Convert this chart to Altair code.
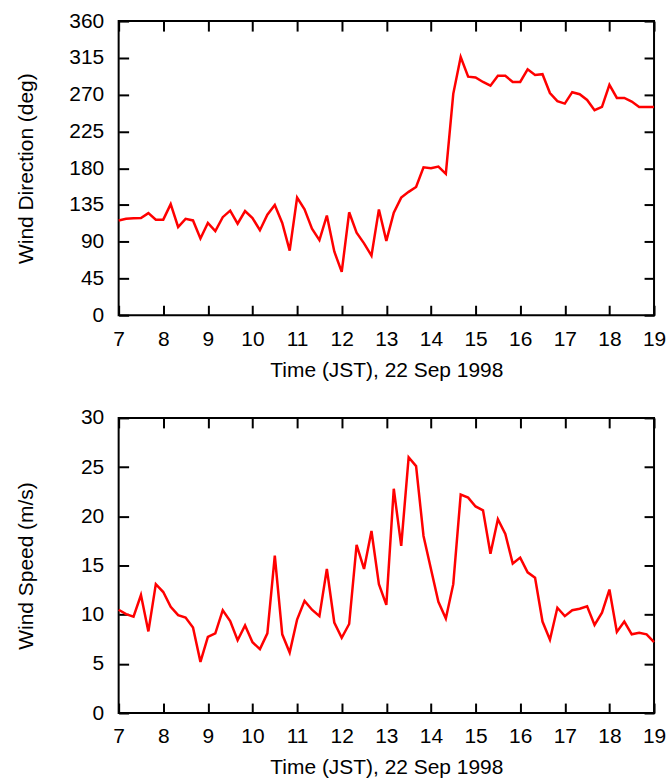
import altair as alt
import pandas as pd

# Wind direction (deg), every 10 minutes from 07:00 to 19:00 JST
direction = [116, 118, 118.6, 119, 125, 117, 117, 136, 108, 118, 116, 94, 113,
             103, 120, 128, 112, 127.5, 119, 104, 123, 135, 113, 79, 144, 129.5,
             106, 92, 122, 78, 53, 126, 101, 88, 73, 129.5, 91,
             125.5, 144, 151, 157, 181, 180, 182, 173, 271, 316, 292, 291, 285.5,
             281, 293, 293, 285.5, 285.5, 301, 294, 295, 272, 262, 259, 273,
             270.5, 263.5, 251, 255, 282, 266, 266, 261.5, 255, 255, 255]

# Wind speed (m/s)
speed = [10.5, 10.05, 9.8, 12.0, 8.3, 13.1, 12.3, 10.8, 9.95, 9.7, 8.7, 5.2, 7.75,
         8.1, 10.45, 9.35, 7.4, 8.9, 7.2, 6.5, 8.1, 16.0, 8.0, 6.15, 9.5, 11.4,
         10.5, 9.85, 14.65, 9.2, 7.65, 9.05, 17.1, 14.65, 18.5, 13.1, 11.0,
         22.8, 17.0, 26.0, 25.1, 18.0, 14.65, 11.3, 9.6, 13.1, 22.2, 21.9, 21.0,
         20.6, 16.2, 19.7, 18.2, 15.2, 15.8, 14.3, 13.75, 9.3, 7.45, 10.7, 9.85,
         10.45, 10.6, 10.85, 8.95, 10.2, 12.55, 8.25, 9.3, 8.0, 8.15, 8.0, 7.2]

hour_ticks = list(range(7, 20))
dir_ticks = list(range(0, 361, 45))
spd_ticks = list(range(0, 31, 5))
x_title = "Time (JST), 22 Sep 1998"

times = [7 + i / 6 for i in range(len(direction))]
df = pd.DataFrame({"t": times, "dir": direction, "spd": speed})

FONT = "Liberation Sans"
FS = 21
TICK = 10


def panel(field, ytitle, ymax, yvals, h):
    xs = alt.Scale(domain=[7, 19], nice=False, zero=False)
    ys = alt.Scale(domain=[0, ymax], nice=False)
    base = alt.Chart(df)
    lab = dict(labelFont=FONT, labelFontSize=FS, labelColor="black",
               titleFont=FONT, titleFontSize=FS, titleColor="black",
               titleFontWeight="normal", grid=False, domain=False,
               ticks=False, tickSize=0, labelFlush=False, labelOverlap=False)
    line = base.mark_line(color="#ff0000", strokeWidth=2.5).encode(
        x=alt.X("t:Q", scale=xs,
                axis=alt.Axis(values=hour_ticks, title=x_title,
                              labelPadding=13, titlePadding=10, **lab)),
        y=alt.Y(field + ":Q", scale=ys,
                axis=alt.Axis(values=yvals, title=ytitle, labelPadding=15,
                              titleX=-92, titleBaseline="middle", **lab)),
    )
    tk = dict(labels=False, domain=False, grid=False, tickSize=TICK,
              offset=-TICK, tickWidth=2, tickColor="black")
    ticks_bl = base.mark_line(opacity=0).encode(
        x=alt.X("t:Q", scale=xs, title=None,
                axis=alt.Axis(values=hour_ticks, orient="bottom", **tk)),
        y=alt.Y(field + ":Q", scale=ys, title=None,
                axis=alt.Axis(values=yvals, orient="left", **tk)),
    )
    ticks_tr = base.mark_line(opacity=0).encode(
        x=alt.X("t:Q", scale=xs, title=None,
                axis=alt.Axis(values=hour_ticks, orient="top", **tk)),
        y=alt.Y(field + ":Q", scale=ys, title=None,
                axis=alt.Axis(values=yvals, orient="right", **tk)),
    )
    return alt.layer(line, ticks_bl, ticks_tr).resolve_axis(
        x="independent", y="independent"
    ).properties(width=537, height=h)


top = panel("dir", "Wind Direction (deg)", 360, dir_ticks, 295)
bottom = panel("spd", "Wind Speed (m/s)", 30, spd_ticks, 296)

chart = alt.vconcat(top, bottom, spacing=25).properties(
    padding={"left": 15, "top": 8, "right": 0, "bottom": 0},
    background="white",
).configure_view(stroke="black", strokeWidth=2)

chart.save("out.html", embed_options={"renderer": "svg", "actions": False})
